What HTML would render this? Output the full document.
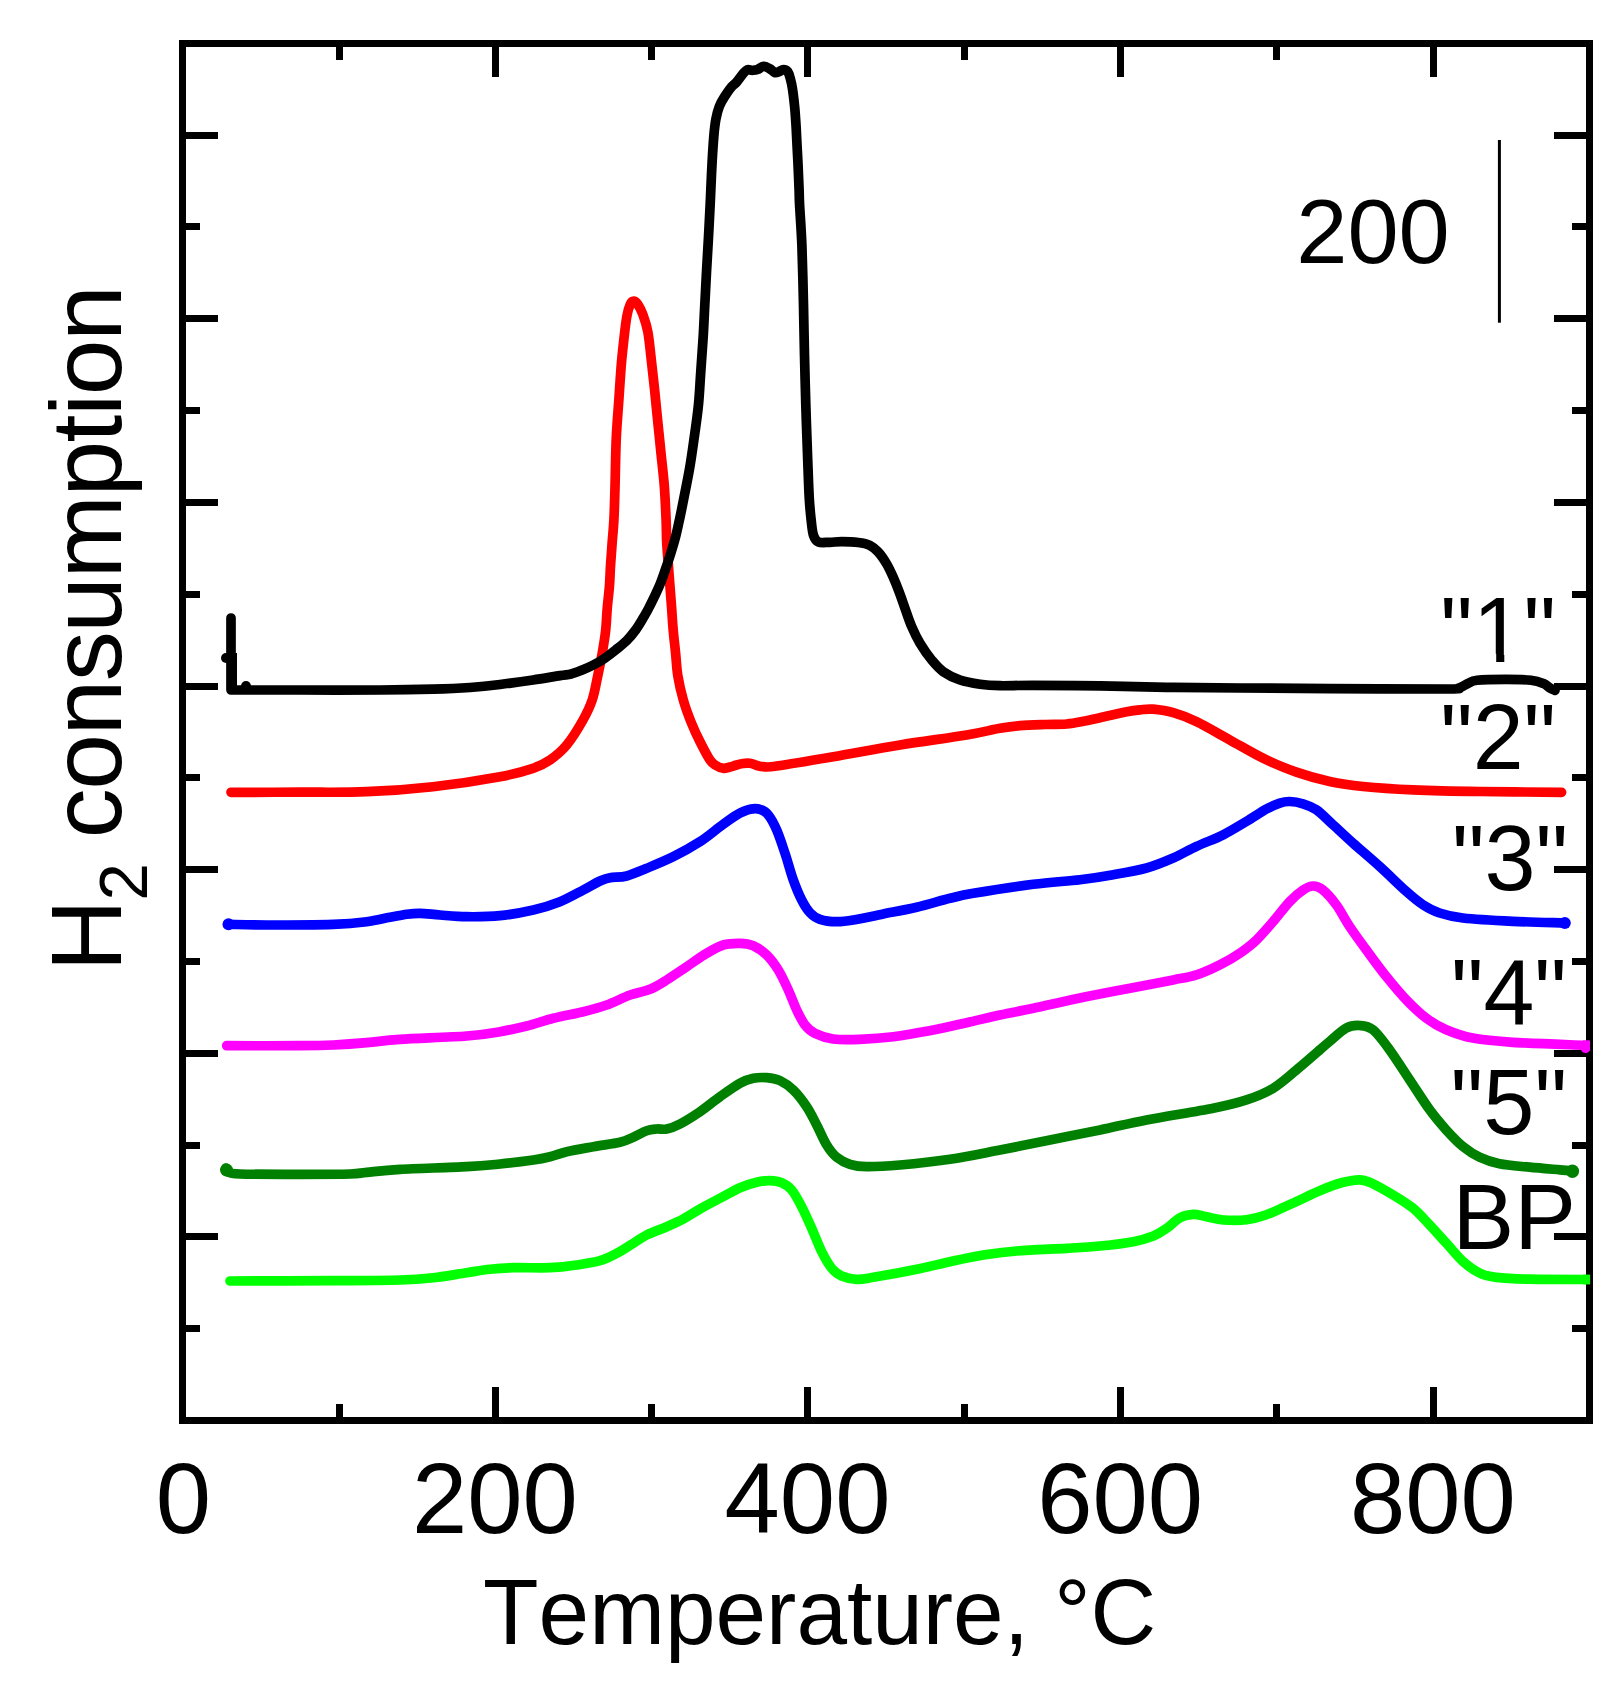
<!DOCTYPE html>
<html lang="en"><head><meta charset="utf-8"><title>H2 consumption vs Temperature</title>
<style>html,body{margin:0;padding:0;background:#fff}body{width:1619px;height:1690px;overflow:hidden}svg{display:block}text{font-family:"Liberation Sans",Arial,Helvetica,sans-serif;fill:#000;font-kerning:none}</style></head><body>
<svg width="1619" height="1690" viewBox="0 0 1619 1690">
<rect width="1619" height="1690" fill="#fff"/>
<g stroke="#000" stroke-width="7" fill="none" stroke-linecap="butt">
<rect x="182.5" y="43.5" width="1407.0" height="1377.0"/>
<path d="M339.5 43.5 V60.0 M339.5 1420.5 V1404.0M495.5 43.5 V77.0 M495.5 1420.5 V1387.0M651.5 43.5 V60.0 M651.5 1420.5 V1404.0M807.5 43.5 V77.0 M807.5 1420.5 V1387.0M964.5 43.5 V60.0 M964.5 1420.5 V1404.0M1120.5 43.5 V77.0 M1120.5 1420.5 V1387.0M1276.5 43.5 V60.0 M1276.5 1420.5 V1404.0M1433.5 43.5 V77.0 M1433.5 1420.5 V1387.0M182.5 135.5 H218.0 M1589.5 135.5 H1554.0M182.5 226.5 H200.0 M1589.5 226.5 H1572.0M182.5 318.5 H218.0 M1589.5 318.5 H1554.0M182.5 410.5 H200.0 M1589.5 410.5 H1572.0M182.5 502.5 H218.0 M1589.5 502.5 H1554.0M182.5 594.5 H200.0 M1589.5 594.5 H1572.0M182.5 686.5 H218.0 M1589.5 686.5 H1554.0M182.5 777.5 H200.0 M1589.5 777.5 H1572.0M182.5 869.5 H218.0 M1589.5 869.5 H1554.0M182.5 961.5 H200.0 M1589.5 961.5 H1572.0M182.5 1053.5 H218.0 M1589.5 1053.5 H1554.0M182.5 1145.5 H200.0 M1589.5 1145.5 H1572.0M182.5 1236.5 H218.0 M1589.5 1236.5 H1554.0M182.5 1328.5 H200.0 M1589.5 1328.5 H1572.0"/>
</g>
<line x1="1499.4" y1="140" x2="1499.4" y2="322.7" stroke="#000" stroke-width="3"/>
<path d="M230.0 1281.0C247.2 1281.0 305.0 1280.9 333.3 1280.7C361.6 1280.5 383.3 1280.5 400.0 1280.0C416.7 1279.5 422.2 1278.9 433.3 1277.7C444.4 1276.5 457.2 1274.1 466.7 1272.7C476.1 1271.3 482.2 1270.1 490.0 1269.3C497.8 1268.5 503.3 1268.0 513.3 1267.7C523.3 1267.4 539.4 1268.2 550.0 1267.7C560.6 1267.2 568.4 1266.2 576.7 1265.0C585.0 1263.8 593.3 1262.7 600.0 1260.7C606.7 1258.8 611.2 1256.2 616.7 1253.3C622.2 1250.4 628.3 1246.3 633.3 1243.3C638.3 1240.2 641.1 1237.8 646.7 1235.0C652.3 1232.2 660.6 1229.4 666.7 1226.7C672.8 1224.0 677.8 1222.0 683.3 1219.0C688.8 1216.0 693.9 1212.5 700.0 1209.0C706.1 1205.5 713.3 1201.8 720.0 1198.3C726.7 1194.8 733.9 1190.4 740.0 1187.7C746.1 1185.0 751.7 1183.5 756.7 1182.3C761.7 1181.1 765.8 1180.6 770.0 1180.7C774.2 1180.8 778.1 1181.2 781.7 1182.7C785.3 1184.2 788.4 1186.0 791.7 1190.0C795.0 1194.0 798.4 1200.3 801.7 1206.7C805.0 1213.1 808.4 1220.8 811.7 1228.3C815.0 1235.8 818.4 1245.0 821.7 1251.7C825.0 1258.4 828.4 1264.2 831.7 1268.3C835.0 1272.3 837.5 1274.2 841.7 1276.0C845.9 1277.8 851.4 1279.1 856.7 1279.3C862.0 1279.5 863.3 1279.0 873.3 1277.3C883.3 1275.6 903.9 1271.9 916.7 1269.3C929.5 1266.7 938.9 1264.1 950.0 1261.7C961.1 1259.3 972.2 1256.8 983.3 1255.0C994.4 1253.2 1002.8 1252.1 1016.7 1251.0C1030.6 1249.9 1052.8 1249.1 1066.7 1248.3C1080.6 1247.5 1088.9 1247.1 1100.0 1246.0C1111.1 1244.9 1124.4 1243.4 1133.3 1241.7C1142.2 1240.0 1147.7 1238.2 1153.3 1236.0C1158.9 1233.8 1162.2 1231.3 1166.7 1228.3C1171.2 1225.2 1175.6 1220.0 1180.0 1217.7C1184.4 1215.4 1188.8 1214.5 1193.3 1214.3C1197.8 1214.1 1201.7 1215.8 1206.7 1216.7C1211.7 1217.7 1216.7 1219.5 1223.3 1220.0C1229.9 1220.5 1239.3 1220.7 1246.5 1219.8C1253.7 1218.9 1258.6 1217.6 1266.4 1214.8C1274.2 1212.0 1284.2 1207.1 1293.1 1203.1C1302.0 1199.1 1311.9 1194.1 1319.7 1190.8C1327.5 1187.5 1333.0 1185.0 1339.7 1183.2C1346.4 1181.4 1354.2 1179.7 1359.7 1179.8C1365.2 1179.9 1367.5 1181.3 1373.0 1183.8C1378.5 1186.3 1386.2 1190.8 1392.9 1194.8C1399.6 1198.8 1406.8 1203.1 1412.9 1208.1C1419.0 1213.1 1424.0 1219.0 1429.6 1224.8C1435.1 1230.6 1440.7 1237.0 1446.2 1243.1C1451.8 1249.2 1457.4 1256.4 1462.9 1261.4C1468.5 1266.4 1474.0 1270.3 1479.5 1273.0C1485.0 1275.7 1487.9 1276.4 1496.2 1277.4C1504.5 1278.4 1514.7 1278.9 1529.5 1279.2C1544.3 1279.5 1575.8 1279.5 1585.0 1279.5" fill="none" stroke="#00ff00" stroke-width="9.7" stroke-linecap="round" stroke-linejoin="round"/>
<path d="M226.0 1168.0C226.3 1168.7 225.7 1171.0 228.0 1172.0C230.3 1173.0 228.0 1173.6 240.0 1174.0C252.0 1174.4 281.7 1174.3 300.0 1174.3C318.3 1174.3 338.9 1174.3 350.0 1174.0C361.1 1173.7 358.4 1173.1 366.7 1172.3C375.0 1171.5 383.3 1170.2 400.0 1169.3C416.7 1168.4 450.0 1167.6 466.7 1166.7C483.4 1165.8 488.9 1165.1 500.0 1164.0C511.1 1162.9 525.0 1161.2 533.3 1160.0C541.6 1158.8 544.4 1158.1 550.0 1156.7C555.6 1155.3 559.5 1153.4 566.7 1151.7C573.9 1150.0 584.4 1148.3 593.3 1146.7C602.2 1145.1 613.3 1143.9 620.0 1142.3C626.7 1140.7 628.8 1139.2 633.3 1137.3C637.8 1135.4 642.8 1132.1 646.7 1130.7C650.6 1129.3 653.4 1129.3 656.7 1129.0C660.0 1128.7 662.8 1129.8 666.7 1129.0C670.6 1128.2 674.5 1126.9 680.0 1124.0C685.5 1121.1 693.3 1116.2 700.0 1111.7C706.7 1107.2 713.3 1101.4 720.0 1096.7C726.7 1092.0 734.5 1086.4 740.0 1083.3C745.5 1080.2 748.8 1079.2 753.3 1078.3C757.8 1077.4 762.2 1077.3 766.7 1077.7C771.2 1078.1 775.6 1078.7 780.0 1080.7C784.4 1082.8 788.8 1085.7 793.3 1090.0C797.8 1094.3 802.8 1100.9 806.7 1106.7C810.6 1112.5 813.4 1118.6 816.7 1125.0C820.0 1131.4 823.4 1139.6 826.7 1145.0C830.0 1150.4 832.8 1154.1 836.7 1157.3C840.6 1160.5 845.0 1162.7 850.0 1164.3C855.0 1165.9 858.4 1166.6 866.7 1166.7C875.0 1166.8 886.1 1166.2 900.0 1165.0C913.9 1163.8 933.3 1161.8 950.0 1159.3C966.7 1156.8 983.3 1153.2 1000.0 1150.0C1016.7 1146.8 1033.3 1143.3 1050.0 1140.0C1066.7 1136.7 1083.9 1133.3 1100.0 1130.0C1116.1 1126.7 1127.7 1123.5 1146.6 1119.9C1165.5 1116.3 1196.5 1111.5 1213.2 1108.2C1229.9 1104.9 1236.5 1103.2 1246.5 1099.9C1256.5 1096.6 1264.8 1093.3 1273.1 1088.3C1281.4 1083.3 1288.6 1076.4 1296.4 1070.0C1304.2 1063.6 1314.2 1054.8 1319.7 1050.0C1325.2 1045.2 1325.3 1045.1 1329.7 1041.4C1334.1 1037.8 1341.3 1030.8 1346.3 1028.1C1351.3 1025.4 1355.2 1025.2 1359.7 1025.5C1364.2 1025.8 1368.0 1025.8 1373.0 1029.8C1378.0 1033.8 1383.5 1041.5 1389.6 1049.8C1395.7 1058.1 1402.9 1069.7 1409.6 1079.7C1416.3 1089.7 1423.5 1101.3 1429.6 1109.7C1435.7 1118.1 1440.7 1123.8 1446.2 1129.9C1451.8 1136.0 1457.4 1142.0 1462.9 1146.5C1468.5 1151.0 1473.4 1154.3 1479.5 1157.2C1485.6 1160.1 1491.2 1162.1 1499.5 1163.8C1507.8 1165.5 1519.4 1166.2 1529.5 1167.2C1539.6 1168.2 1552.9 1169.2 1560.0 1169.8C1567.1 1170.4 1570.0 1170.6 1572.0 1170.8" fill="none" stroke="#008000" stroke-width="9.7" stroke-linecap="round" stroke-linejoin="round"/>
<path d="M226.7 1045.7C238.9 1045.7 282.2 1045.8 300.0 1045.7C317.8 1045.6 322.2 1045.5 333.3 1045.0C344.4 1044.5 355.6 1043.7 366.7 1042.7C377.8 1041.8 383.3 1040.4 400.0 1039.3C416.7 1038.2 450.0 1037.3 466.7 1036.0C483.4 1034.7 490.0 1033.4 500.0 1031.7C510.0 1030.0 517.8 1028.2 526.7 1026.0C535.6 1023.8 543.9 1020.7 553.3 1018.3C562.7 1015.9 574.4 1013.9 583.3 1011.7C592.2 1009.5 598.9 1007.8 606.7 1005.0C614.5 1002.2 622.8 997.6 630.0 995.0C637.2 992.4 643.9 991.8 650.0 989.3C656.1 986.8 660.6 983.8 666.7 980.0C672.8 976.2 680.0 971.2 686.7 966.7C693.4 962.2 700.6 956.9 706.7 953.3C712.8 949.7 717.8 946.7 723.3 945.0C728.8 943.3 735.0 943.2 740.0 943.3C745.0 943.4 748.8 943.8 753.3 945.7C757.8 947.7 762.5 951.0 766.7 955.0C770.9 959.0 774.7 964.2 778.3 970.0C781.9 975.8 785.2 983.3 788.3 990.0C791.4 996.7 793.9 1004.2 796.7 1010.0C799.5 1015.8 802.0 1021.1 805.0 1025.0C808.0 1028.9 810.3 1031.0 815.0 1033.3C819.7 1035.6 825.8 1038.0 833.3 1039.0C840.8 1040.0 850.0 1039.7 860.0 1039.3C870.0 1038.9 881.1 1038.2 893.3 1036.7C905.5 1035.2 921.1 1032.3 933.3 1030.0C945.5 1027.7 955.6 1025.2 966.7 1022.7C977.8 1020.2 988.9 1017.4 1000.0 1015.0C1011.1 1012.6 1019.4 1011.2 1033.3 1008.3C1047.2 1005.3 1067.2 1000.6 1083.3 997.3C1099.4 993.9 1115.0 991.1 1130.0 988.2C1145.0 985.3 1162.1 982.1 1173.2 979.9C1184.3 977.7 1188.7 977.4 1196.5 974.9C1204.3 972.4 1212.6 968.5 1219.8 964.9C1227.0 961.3 1233.7 957.4 1239.8 953.2C1245.9 949.0 1251.0 945.2 1256.5 939.9C1262.0 934.6 1267.6 928.0 1273.1 921.6C1278.6 915.2 1284.7 906.9 1289.7 901.6C1294.7 896.3 1299.2 892.6 1303.1 890.0C1307.0 887.4 1309.7 886.0 1313.0 886.0C1316.3 886.0 1319.1 886.8 1323.0 890.0C1326.9 893.2 1332.0 898.9 1336.4 905.0C1340.9 911.1 1344.7 919.1 1349.7 926.6C1354.7 934.1 1360.2 941.6 1366.3 949.9C1372.4 958.2 1379.6 968.2 1386.3 976.5C1393.0 984.8 1399.6 992.9 1406.3 999.8C1413.0 1006.7 1419.5 1013.1 1426.2 1018.1C1432.9 1023.1 1438.4 1026.5 1446.2 1029.8C1454.0 1033.1 1461.7 1036.0 1472.8 1038.1C1483.9 1040.2 1494.3 1041.1 1512.8 1042.3C1531.3 1043.5 1572.1 1044.8 1584.0 1045.3" fill="none" stroke="#ff00ff" stroke-width="9.7" stroke-linecap="round" stroke-linejoin="round"/>
<path d="M228.3 924.3C234.7 924.4 249.2 925.0 266.7 925.0C284.2 925.0 316.6 924.8 333.3 924.3C350.0 923.8 357.2 922.9 366.7 921.7C376.1 920.5 383.3 918.5 390.0 917.3C396.7 916.1 401.7 915.0 406.7 914.3C411.7 913.6 414.4 913.2 420.0 913.3C425.6 913.4 432.2 914.4 440.0 915.0C447.8 915.6 456.7 916.6 466.7 916.7C476.7 916.8 488.9 916.8 500.0 915.7C511.1 914.6 523.3 912.3 533.3 910.0C543.3 907.7 551.7 905.0 560.0 901.7C568.3 898.4 576.6 893.5 583.3 890.0C590.0 886.5 595.5 883.0 600.0 881.0C604.5 879.0 605.5 878.5 610.0 877.7C614.5 876.9 620.6 877.6 626.7 876.0C632.8 874.4 638.9 871.5 646.7 868.3C654.5 865.1 664.4 861.1 673.3 856.7C682.2 852.3 692.2 846.7 700.0 841.7C707.8 836.7 713.9 831.2 720.0 826.7C726.1 822.2 731.7 817.9 736.7 815.0C741.7 812.1 746.1 810.2 750.0 809.3C753.9 808.3 757.0 808.3 760.0 809.3C763.0 810.2 765.5 811.5 768.3 815.0C771.1 818.5 773.9 823.6 776.7 830.0C779.5 836.4 782.2 845.0 785.0 853.3C787.8 861.6 790.5 872.2 793.3 880.0C796.1 887.8 798.9 894.5 801.7 900.0C804.5 905.5 807.0 909.5 810.0 912.7C813.0 915.9 815.5 917.8 820.0 919.3C824.5 920.8 831.2 921.6 836.7 921.7C842.2 921.8 845.5 921.3 853.3 920.0C861.1 918.7 872.7 916.1 883.3 914.0C893.9 911.9 905.6 909.9 916.7 907.3C927.8 904.7 940.6 900.6 950.0 898.3C959.4 896.0 959.4 895.6 973.3 893.3C987.2 891.0 1015.5 886.6 1033.3 884.3C1051.1 882.0 1066.7 881.3 1080.0 879.7C1093.3 878.1 1102.2 876.7 1113.3 874.7C1124.4 872.8 1136.6 870.8 1146.6 868.0C1156.6 865.2 1164.9 861.6 1173.2 858.0C1181.5 854.4 1188.2 850.3 1196.5 846.4C1204.8 842.5 1214.9 839.0 1223.2 834.8C1231.5 830.6 1239.3 825.7 1246.5 821.4C1253.7 817.1 1260.9 812.1 1266.4 809.1C1272.0 806.1 1275.9 804.4 1279.8 803.1C1283.7 801.8 1285.8 801.4 1289.7 801.5C1293.6 801.6 1298.5 802.4 1303.0 803.8C1307.5 805.2 1311.4 806.3 1316.4 809.8C1321.4 813.3 1326.9 819.2 1333.0 824.8C1339.1 830.3 1345.2 836.2 1353.0 843.1C1360.8 850.0 1370.7 858.4 1379.6 866.4C1388.5 874.4 1399.1 885.0 1406.3 891.4C1413.5 897.8 1417.4 901.1 1422.9 904.7C1428.5 908.3 1432.9 910.8 1439.6 913.0C1446.3 915.2 1450.7 916.6 1462.9 918.0C1475.1 919.4 1495.8 920.5 1512.8 921.3C1529.8 922.1 1556.1 922.7 1564.8 923.0" fill="none" stroke="#0000ff" stroke-width="9.7" stroke-linecap="round" stroke-linejoin="round"/>
<path d="M231.0 792.3C242.5 792.3 277.4 792.3 300.0 792.2C322.6 792.1 344.5 792.6 366.7 791.7C388.9 790.8 410.8 789.2 433.0 786.7C455.2 784.2 483.3 779.8 500.0 776.7C516.7 773.6 524.7 771.1 533.0 768.3C541.3 765.5 544.4 763.9 550.0 760.0C555.6 756.1 561.2 751.7 566.7 745.0C572.2 738.3 578.8 727.5 583.0 720.0C587.2 712.5 589.7 707.4 592.2 700.0C594.7 692.6 596.1 683.4 597.8 675.6C599.5 667.8 600.9 660.7 602.2 653.3C603.5 645.9 604.8 638.5 605.6 631.1C606.4 623.7 606.6 616.3 607.2 608.9C607.8 601.5 608.8 594.1 609.4 586.7C610.0 579.3 610.1 571.8 610.6 564.4C611.1 557.0 611.7 549.6 612.2 542.2C612.8 534.8 613.4 529.1 613.9 520.0C614.4 510.9 614.6 501.0 615.0 487.3C615.4 473.6 615.6 452.5 616.3 437.6C617.0 422.7 618.2 410.0 619.0 397.8C619.8 385.6 620.5 374.6 621.3 364.7C622.1 354.8 623.1 346.3 624.0 338.2C624.9 330.1 625.9 321.6 626.9 316.0C627.9 310.4 629.1 306.9 630.2 304.4C631.3 301.9 632.3 301.1 633.6 301.1C634.9 301.1 636.4 302.2 637.9 304.4C639.4 306.6 641.1 309.9 642.8 314.4C644.4 318.9 646.4 324.3 647.8 331.6C649.2 338.9 650.0 348.7 651.1 358.1C652.2 367.5 653.3 377.4 654.4 387.9C655.5 398.4 656.6 409.9 657.7 421.0C658.8 432.1 660.0 443.1 661.1 454.2C662.2 465.2 663.6 476.3 664.4 487.3C665.2 498.3 665.7 510.9 666.1 520.0C666.5 529.1 666.3 534.8 666.7 542.2C667.1 549.6 667.8 557.0 668.3 564.4C668.8 571.8 669.4 579.3 670.0 586.7C670.6 594.1 671.2 601.5 671.7 608.9C672.2 616.3 672.6 623.7 673.3 631.1C673.9 638.5 674.9 645.9 675.6 653.3C676.4 660.7 676.5 667.8 677.8 675.6C679.1 683.4 681.1 692.3 683.3 700.0C685.5 707.7 688.2 715.0 691.0 722.0C693.8 729.0 696.8 735.4 700.0 741.7C703.2 748.0 707.3 756.0 710.0 760.0C712.7 764.0 713.8 764.1 716.0 765.5C718.2 766.9 721.0 768.0 723.3 768.3C725.6 768.5 727.8 767.5 730.0 767.0C732.2 766.5 734.5 765.6 736.7 765.0C738.9 764.4 740.8 763.8 743.0 763.5C745.2 763.2 747.7 763.0 750.0 763.3C752.3 763.6 754.8 764.9 757.0 765.5C759.2 766.1 760.0 766.6 763.3 766.7C766.6 766.8 765.0 767.7 776.7 766.0C788.4 764.3 812.8 760.2 833.3 756.7C853.8 753.2 877.8 748.6 900.0 745.0C922.2 741.4 950.0 737.8 966.7 735.0C983.4 732.2 991.1 729.8 1000.0 728.3C1008.9 726.8 1012.5 726.3 1020.0 725.7C1027.5 725.1 1037.2 724.8 1045.0 724.5C1052.8 724.2 1060.0 724.6 1066.7 724.0C1073.4 723.4 1079.5 722.0 1085.0 721.0C1090.5 720.0 1093.0 719.2 1100.0 717.7C1107.0 716.2 1120.0 713.0 1126.7 711.7C1133.4 710.4 1135.6 710.2 1140.0 709.8C1144.4 709.4 1147.7 708.7 1153.2 709.2C1158.8 709.7 1166.1 710.6 1173.3 712.7C1180.5 714.8 1187.1 717.1 1196.5 721.6C1205.9 726.1 1218.7 733.8 1229.8 739.9C1240.9 746.0 1251.9 752.8 1263.0 758.2C1274.1 763.6 1285.3 768.3 1296.4 772.2C1307.5 776.1 1318.6 779.1 1329.7 781.5C1340.8 783.9 1349.1 785.1 1363.0 786.5C1376.9 787.9 1393.6 789.0 1413.0 789.8C1432.4 790.6 1454.7 791.1 1479.5 791.5C1504.3 791.9 1547.9 792.2 1561.6 792.3" fill="none" stroke="#ff0000" stroke-width="9.7" stroke-linecap="round" stroke-linejoin="round"/>
<path d="M231.0 618.0L231.0 640.0L231.0 670.0L231.0 690.0L233.0 690.0 M233.0 690.0C244.2 690.0 275.5 690.0 300.0 690.0C324.5 690.0 357.8 690.1 380.0 690.0C402.2 689.9 418.0 689.6 433.0 689.2C448.0 688.8 458.8 688.3 470.0 687.5C481.2 686.7 489.5 685.8 500.0 684.5C510.5 683.2 523.0 681.5 533.0 680.0C543.0 678.5 553.6 676.6 560.0 675.6C566.4 674.6 567.4 674.9 571.1 674.0C574.8 673.1 578.5 671.5 582.2 670.0C585.9 668.5 589.6 666.9 593.3 665.0C597.0 663.1 600.7 660.9 604.4 658.4C608.1 655.9 611.9 653.0 615.6 650.0C619.3 647.0 623.4 643.9 626.7 640.6C630.0 637.3 632.8 633.8 635.6 630.0C638.4 626.2 641.1 621.5 643.3 617.8C645.5 614.1 647.0 611.3 648.9 607.8C650.8 604.3 652.5 600.6 654.4 596.7C656.2 592.8 658.1 589.0 660.0 584.4C661.9 579.8 663.8 574.3 665.6 568.9C667.5 563.5 669.4 557.6 671.1 552.2C672.8 546.8 674.2 542.1 675.6 536.7C677.0 531.3 678.2 525.3 679.4 520.0C680.5 514.7 680.9 513.2 682.5 505.0C684.1 496.8 687.2 481.9 689.2 470.7C691.2 459.5 692.7 448.6 694.2 437.6C695.8 426.6 697.4 415.6 698.5 404.5C699.6 393.4 700.0 382.4 700.8 371.3C701.6 360.2 702.4 349.2 703.1 338.2C703.8 327.2 704.2 316.2 704.8 305.1C705.4 294.1 705.9 282.9 706.5 271.9C707.1 260.8 707.8 249.8 708.4 238.8C709.0 227.8 709.7 213.8 710.1 205.7C710.5 197.6 710.5 197.2 710.8 190.0C711.1 182.8 711.6 171.3 712.1 162.4C712.6 153.5 713.2 143.7 713.8 136.5C714.4 129.3 715.0 124.2 715.9 119.2C716.8 114.2 717.9 110.0 719.4 106.2C720.9 102.5 722.7 99.7 724.6 96.7C726.5 93.7 728.6 90.5 730.6 88.0C732.6 85.5 734.7 84.3 736.7 82.0C738.7 79.7 741.0 76.2 742.7 74.2C744.4 72.2 745.5 70.6 747.1 69.9C748.7 69.2 750.6 70.4 752.3 70.3C754.0 70.2 755.6 70.2 757.5 69.5C759.4 68.8 761.5 66.6 763.5 66.4C765.5 66.2 767.7 67.6 769.6 68.6C771.5 69.6 773.1 72.0 774.7 72.5C776.3 73.0 777.7 72.1 779.1 71.6C780.5 71.1 782.0 69.5 783.4 69.5C784.8 69.5 786.6 70.1 787.7 71.6C788.9 73.1 789.5 75.6 790.3 78.5C791.1 81.4 791.8 84.3 792.5 88.9C793.2 93.5 794.0 100.4 794.6 106.2C795.2 112.0 795.5 117.7 795.9 123.5C796.3 129.3 796.5 135.0 796.8 140.8C797.1 146.6 797.4 152.3 797.7 158.1C798.0 163.9 798.3 170.1 798.5 175.4C798.7 180.7 798.9 185.1 799.1 190.0C799.3 194.9 799.1 195.8 799.6 205.0C800.1 214.2 801.2 228.7 801.9 245.4C802.5 262.1 803.1 286.9 803.5 305.1C803.9 323.3 804.1 338.2 804.5 354.8C804.9 371.4 805.3 387.9 805.8 404.5C806.3 421.1 806.9 438.8 807.5 454.2C808.1 469.6 808.6 486.2 809.2 497.2C809.8 508.2 810.5 514.0 811.2 520.4C811.9 526.8 812.3 531.8 813.5 535.4C814.7 539.0 815.6 540.9 818.4 542.0C821.1 543.1 826.1 542.3 830.0 542.3C833.9 542.2 836.9 541.7 841.6 541.7C846.3 541.7 853.5 541.9 858.2 542.5C862.9 543.1 866.5 543.7 869.8 545.3C873.1 546.9 875.3 548.9 878.1 551.9C880.9 554.9 883.9 559.4 886.4 563.5C888.9 567.6 890.9 572.1 893.0 576.8C895.1 581.5 897.0 586.2 899.0 591.5C901.0 596.8 902.9 602.4 905.0 608.3C907.1 614.2 909.2 620.9 911.7 626.7C914.2 632.5 916.7 637.8 920.0 643.3C923.3 648.8 927.8 655.3 931.7 660.0C935.6 664.7 938.6 668.4 943.3 671.7C948.0 675.0 953.9 677.9 960.0 680.0C966.1 682.1 973.3 683.3 980.0 684.3C986.7 685.2 991.2 685.5 1000.0 685.7C1008.8 685.9 1016.3 685.3 1033.0 685.3C1049.7 685.3 1077.7 685.6 1100.0 685.9C1122.3 686.2 1143.4 686.9 1166.7 687.3C1190.0 687.6 1212.8 687.8 1240.0 688.0C1267.2 688.2 1295.7 688.4 1330.0 688.6C1364.3 688.8 1424.4 689.2 1446.0 689.0C1467.6 688.8 1455.8 688.5 1459.5 687.6C1463.2 686.7 1465.1 684.7 1468.0 683.5C1470.9 682.3 1470.7 681.0 1477.0 680.3C1483.3 679.6 1497.0 679.4 1506.0 679.4C1515.0 679.4 1524.8 679.6 1531.0 680.3C1537.2 681.0 1540.3 682.3 1543.5 683.6C1546.7 684.9 1548.1 686.9 1550.0 688.0C1551.9 689.1 1554.2 689.9 1555.0 690.3" fill="none" stroke="#000000" stroke-width="9.7" stroke-linecap="round" stroke-linejoin="round"/>
<circle cx="226" cy="658" r="5" fill="#000"/>
<rect x="231" y="653" width="6" height="37" fill="#000"/>
<circle cx="246" cy="686" r="5" fill="#000"/>
<circle cx="228.5" cy="924.3" r="6" fill="#0000ff"/>
<circle cx="1564.8" cy="923" r="6" fill="#0000ff"/>
<circle cx="226.5" cy="1170" r="6.5" fill="#008000"/>
<circle cx="1572.4" cy="1171.3" r="6.7" fill="#008000"/>
<path d="M1583 1040.3h7v10.4h-7z" fill="#ff00ff"/><circle cx="1585.5" cy="1048.4" r="4.6" fill="#ff00ff"/>
<path d="M1583 1274.6h7.1v9.8h-7.1z" fill="#00ff00"/>
<text transform="translate(183.4 1532.9) scale(0.9940 1.0000)" font-size="100" text-anchor="middle">0</text>
<text transform="translate(494.9 1532.9) scale(0.9940 1.0000)" font-size="100" text-anchor="middle">200</text>
<text transform="translate(807.5 1532.9) scale(0.9940 1.0000)" font-size="100" text-anchor="middle">400</text>
<text transform="translate(1120.2 1532.9) scale(0.9940 1.0000)" font-size="100" text-anchor="middle">600</text>
<text transform="translate(1432.9 1532.9) scale(0.9940 1.0000)" font-size="100" text-anchor="middle">800</text>
<text transform="translate(1296.2 263.1) scale(0.9203 0.9170)" font-size="100" text-anchor="start">200</text>
<text transform="translate(483.0 1643.9) scale(0.9097 0.9270)" font-size="100" text-anchor="start">Temperature, &#176;C</text>
<text transform="translate(1440.2 661.9) scale(0.9157 0.9246)" font-size="100" text-anchor="start">&quot;1&quot;</text>
<text transform="translate(1440.2 768.8) scale(0.9157 0.9246)" font-size="100" text-anchor="start">&quot;2&quot;</text>
<text transform="translate(1452.0 890.1) scale(0.9178 0.9200)" font-size="100" text-anchor="start">&quot;3&quot;</text>
<text transform="translate(1451.0 1024.0) scale(0.9150 0.9250)" font-size="100" text-anchor="start">&quot;4&quot;</text>
<text transform="translate(1450.6 1134.2) scale(0.9200 0.9240)" font-size="100" text-anchor="start">&quot;5&quot;</text>
<text transform="translate(1452.5 1249.0) scale(0.9250 0.9290)" font-size="100" text-anchor="start">BP</text>
<path d="M1477 653.8h19.2v9.5h-19.2zM1504.3 653.8h17.5v9.5h-17.5z" fill="#fff"/>
<text transform="translate(121 971.4) rotate(-90) scale(1 1.01)" font-size="100" letter-spacing="-1.4">H<tspan font-size="67" dy="26">2</tspan><tspan dy="-26"> consumption</tspan></text>
</svg></body></html>
